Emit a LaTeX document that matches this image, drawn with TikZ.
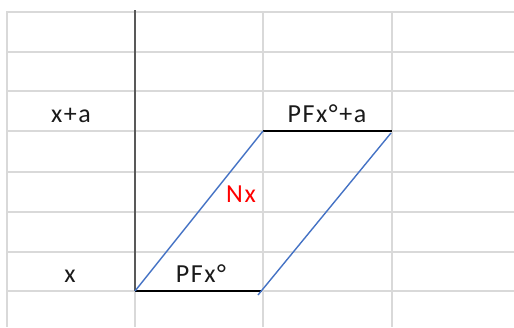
\documentclass[tikz,border=0pt]{standalone}
\usepackage{fontspec}
\setmainfont[LetterSpace=6]{Carlito}
\definecolor{gridgray}{HTML}{D9D9D9}
\definecolor{axisgray}{HTML}{595959}
\definecolor{lineblue}{HTML}{4472C4}
\definecolor{labelred}{HTML}{FF0000}
\definecolor{textdark}{HTML}{1A1A1A}
\begin{document}
\begin{tikzpicture}[x=1pt,y=-1pt,
  gridline/.style={draw=gridgray,line width=1.8pt},
  axisline/.style={draw=axisgray,line width=1.8pt},
  edgeline/.style={draw=black,line width=1.8pt},
  slant/.style={draw=lineblue,line width=1.4pt},
  lbl/.style={font=\fontsize{26}{30}\selectfont,text=textdark,anchor=base,inner sep=0pt}]
\useasboundingbox (0,0) rectangle (514,327);
% grid
\foreach \yy in {12,52,91,131,172,212,252,291}
  \draw[gridline] (6,\yy) -- (514,\yy);
\foreach \xx in {7,135,263,392}
  \draw[gridline] (\xx,12) -- (\xx,327);
% axis
\coordinate (axtop) at (135,10);
\coordinate (axbot) at (135,291);
\draw[axisline] (axtop) -- (axbot);
% corners
\coordinate (A) at (135,291);
\coordinate (B) at (262,291);
\coordinate (C) at (263,131);
\coordinate (D) at (392,131);
\coordinate (Bl) at (258,295);
\coordinate (Dl) at (391,133);
\draw[edgeline] (A) -- (B);
\draw[edgeline] (C) -- (D);
\draw[slant] (A) -- (C);
\draw[slant] (Bl) -- (Dl);
% labels
\node[lbl] (xa) at (71,122) {x+a};
\node[lbl] (xx) at (70,282) {x};
\node[lbl] (pfa) at (327,122) {PFx°+a};
\node[lbl] (pf) at (201,282) {PFx°};
\node[lbl,text=labelred] (nx) at (241,202) {Nx};
\end{tikzpicture}
\end{document}
